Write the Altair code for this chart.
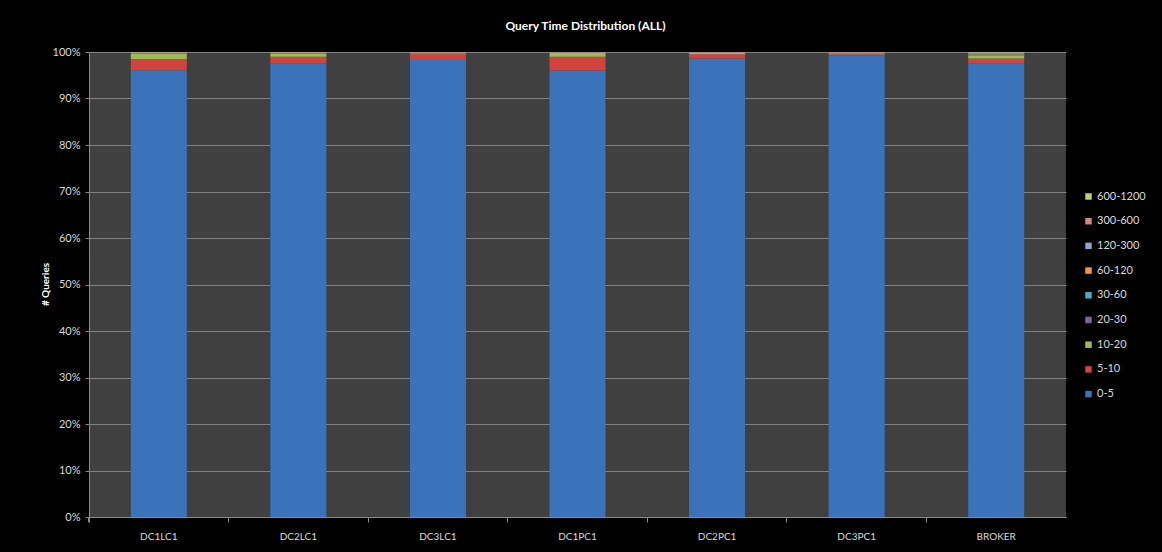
import altair as alt
import pandas as pd

# ---- data (percent of queries per response-time bucket) ----
servers = ["DC1LC1", "DC2LC1", "DC3LC1", "DC1PC1", "DC2PC1", "DC3PC1", "BROKER"]
buckets = ["0-5", "5-10", "10-20", "20-30", "30-60", "60-120", "120-300", "300-600", "600-1200"]

b_0_5     = [96.1, 97.6, 98.3, 96.0, 98.6, 99.2, 97.5]
b_5_10    = [2.4, 1.4, 1.2, 3.0, 0.9, 0.3, 1.1]
b_10_20   = [1.2, 0.6, 0.2, 0.8, 0.3, 0.1, 0.7]
b_20_30   = [0.05, 0.1, 0.05, 0.04, 0.04, 0.05, 0.1]
b_30_60   = [0.05, 0.1, 0.05, 0.04, 0.04, 0.2, 0.1]
b_60_120  = [0.05, 0.05, 0.1, 0.04, 0.04, 0.05, 0.2]
b_120_300 = [0.05, 0.05, 0.05, 0.03, 0.03, 0.05, 0.1]
b_300_600 = [0.05, 0.05, 0.03, 0.03, 0.03, 0.03, 0.1]
b_600_1200 = [0.05, 0.05, 0.02, 0.02, 0.02, 0.02, 0.1]

series = [b_0_5, b_5_10, b_10_20, b_20_30, b_30_60, b_60_120, b_120_300, b_300_600, b_600_1200]
colors = ["#3A73BA", "#D0433F", "#9BBB59", "#8064A2", "#4BACC6",
          "#F79646", "#8EA6CF", "#D68784", "#B7D07A"]

y_ticks = [i / 10 for i in range(11)]

rows = []
for bi, (name, vals) in enumerate(zip(buckets, series)):
    for si, s in enumerate(servers):
        rows.append({"server": s, "bucket": name, "order": bi, "pct": vals[si]})
df = pd.DataFrame(rows)

FONT = "Lato"
LABEL = "#d9d9d9"

bars = alt.Chart(df).mark_bar(size=56).encode(
    x=alt.X("server:N", sort=servers,
            scale=alt.Scale(paddingInner=0, paddingOuter=0),
            axis=alt.Axis(title=None, labelAngle=0, labelFontSize=10, labelColor=LABEL,
                          labelFont=FONT, labelPadding=9, tickSize=5, tickColor="#888888",
                          bandPosition=0, tickExtra=True, domainColor="#888888", grid=False)),
    y=alt.Y("pct:Q", stack="normalize",
            scale=alt.Scale(domain=[0, 1]),
            axis=alt.Axis(title="# Queries", format="%", values=y_ticks,
                          labelFontSize=11, labelColor=LABEL, labelFont=FONT,
                          labelPadding=5, tickSize=4, tickColor="#888888",
                          domainColor="#888888", gridColor="#808080", gridWidth=1,
                          titleColor="white", titleFont=FONT, titleFontSize=10,
                          titleFontWeight="bold", titleAngle=270,
                          titleX=-44, titleY=232, titleAlign="center",
                          titleBaseline="middle")),
    color=alt.Color("bucket:N",
                    scale=alt.Scale(domain=buckets, range=colors),
                    legend=alt.Legend(title=None, values=buckets[::-1],
                                      orient="none", legendX=994, legendY=139,
                                      symbolType="square", symbolSize=42,
                                      symbolStrokeWidth=0, labelFont=FONT,
                                      labelFontSize=11, labelColor=LABEL,
                                      rowPadding=12.7, labelOffset=3)),
    order=alt.Order("order:Q", sort="ascending"),
    tooltip=["server", "bucket", "pct"],
)

chart = bars.properties(
    width=977, height=465,
    autosize=alt.AutoSizeParams(type="none"),
    padding={"left": 89, "top": 52, "right": 96, "bottom": 35},
    background="black",
    title=alt.TitleParams("Query Time Distribution (ALL)", color="white", font=FONT,
                          fontSize=12, fontWeight="bold", anchor="middle", dx=8,
                          offset=13),
).configure_view(fill="#404040", stroke=None)

chart.save("out.html", embed_options={"renderer": "svg", "actions": False})
